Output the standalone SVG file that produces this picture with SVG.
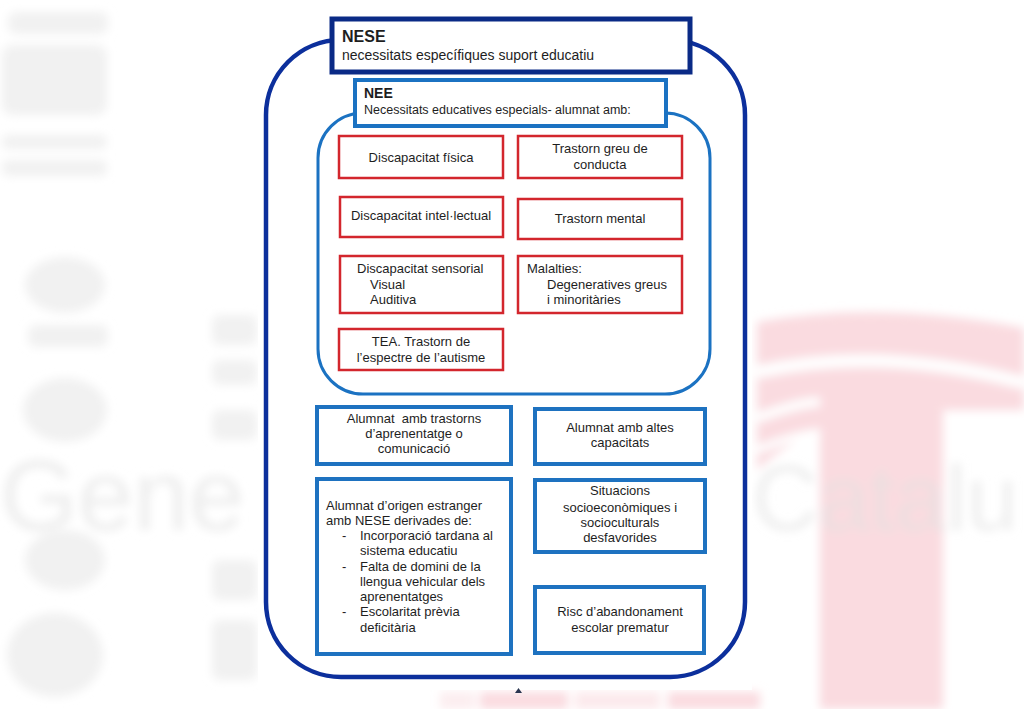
<svg xmlns="http://www.w3.org/2000/svg" width="1024" height="709" viewBox="0 0 1024 709">
<defs>
<filter id="blur" filterUnits="userSpaceOnUse" x="0" y="0" width="1024" height="709"><feGaussianBlur stdDeviation="5"/></filter>
<style>
text{font-family:"Liberation Sans",Arial,sans-serif;fill:#1e1e1e}
.t{font-size:13px}
.c{text-anchor:middle}
.red{fill:#fff;stroke:#d3262d;stroke-width:2.5}
.blue{fill:#fff;stroke:#1e72c0;stroke-width:4}
.wm{fill:#f1f1f1}
.pk{fill:#fadbe0}
</style>
</defs>
<rect width="1024" height="709" fill="#fff"/>
<g id="watermark" filter="url(#blur)">
<path class="pk" d="M757,322 Q880,300 1024,328 L1024,410 L943,410 L943,709 L820,709 L820,430 Q790,440 757,470 Z"/>
<path d="M757,372 Q880,345 1024,383" fill="none" stroke="#fff" stroke-width="13"/>
<path d="M757,418 Q800,402 820,402" fill="none" stroke="#fff" stroke-width="10"/>
<path d="M757,450 Q790,436 820,432" fill="none" stroke="#fff" stroke-width="8"/>
<rect class="pk" x="440" y="692" width="35" height="17" opacity="0.5"/>
<rect class="pk" x="480" y="692" width="88" height="17"/>
<rect class="pk" x="575" y="692" width="85" height="17" opacity="0.6"/>
<rect class="pk" x="668" y="692" width="92" height="17"/>
<g class="wm">
<rect x="8" y="12" width="100" height="22" rx="8"/>
<rect x="2" y="45" width="105" height="70" rx="10"/>
<rect x="2" y="135" width="105" height="14" rx="6"/>
<rect x="2" y="160" width="105" height="16" rx="6"/>
<ellipse cx="65" cy="285" rx="40" ry="28"/>
<rect x="28" y="325" width="80" height="22" rx="8"/>
<ellipse cx="65" cy="410" rx="42" ry="32"/>
<ellipse cx="65" cy="560" rx="40" ry="30"/>
<ellipse cx="55" cy="655" rx="48" ry="42"/>
<rect x="212" y="315" width="45" height="30" rx="8"/>
<rect x="212" y="360" width="45" height="25" rx="8"/>
<rect x="212" y="410" width="45" height="30" rx="8"/>
<rect x="212" y="560" width="45" height="40" rx="8"/>
<rect x="212" y="620" width="45" height="60" rx="8"/>
</g>
<text x="0" y="530" style="font-size:100px;fill:#eeeeee">Gene</text>
<text x="752" y="530" style="font-size:92px;fill:#e2e2e2" opacity="0.55">Catalu</text>
</g>
<rect x="258" y="0" width="494" height="690" fill="#fff"/>
<g id="connectors"></g>
<g id="nese-frame">
<rect x="266" y="40" width="479" height="637" rx="75" fill="none" stroke="#0c2f9c" stroke-width="4.5"/>
</g>
<g id="nese">
<rect x="332" y="19" width="358" height="53" fill="#fff" stroke="#0a2a86" stroke-width="5"/>
<text x="342" y="42" style="font-size:16px;font-weight:bold">NESE</text>
<text x="342" y="60" style="font-size:14px">necessitats específiques suport educatiu</text>
</g>
<g id="nee-frame">
<rect x="318" y="113" width="392" height="281" rx="45" fill="none" stroke="#1b72c2" stroke-width="3"/>
</g>
<g id="nee">
<rect x="355" y="80" width="311" height="46" fill="#fff" stroke="#1b72c2" stroke-width="4"/>
<text x="364" y="98" style="font-size:14px;font-weight:bold">NEE</text>
<text x="364" y="114" style="font-size:12.5px">Necessitats educatives especials- alumnat amb:</text>
</g>
<g id="disc-fisica">
<rect class="red" x="339" y="136" width="164" height="42"/>
<text class="t c" x="421" y="162">Discapacitat física</text>
</g>
<g id="trastorn-conducta">
<rect class="red" x="518" y="136" width="164" height="42"/>
<text class="t c" x="600" y="153">Trastorn greu de</text>
<text class="t c" x="600" y="169">conducta</text>
</g>
<g id="disc-intel">
<rect class="red" x="340" y="197" width="163" height="40"/>
<text class="t c" x="421" y="220">Discapacitat intel·lectual</text>
</g>
<g id="trastorn-mental">
<rect class="red" x="518" y="199" width="164" height="40"/>
<text class="t c" x="600" y="223">Trastorn mental</text>
</g>
<g id="disc-sensorial">
<rect class="red" x="340" y="256" width="163" height="57"/>
<text class="t" x="357" y="273">Discapacitat sensorial</text>
<text class="t" x="370" y="289">Visual</text>
<text class="t" x="370" y="304">Auditiva</text>
</g>
<g id="malalties">
<rect class="red" x="518" y="256" width="164" height="57"/>
<text class="t" x="527" y="273">Malalties:</text>
<text class="t" x="547" y="289">Degeneratives greus</text>
<text class="t" x="547" y="304">i minoritàries</text>
</g>
<g id="tea">
<rect class="red" x="339" y="329" width="164" height="41"/>
<text class="t c" x="421" y="346">TEA. Trastorn de</text>
<text class="t c" x="421" y="362">l’espectre de l’autisme</text>
</g>
<g id="trastorns-aprenentatge">
<rect class="blue" x="317" y="407" width="194" height="57"/>
<text class="t c" x="414" y="423" xml:space="preserve">Alumnat  amb trastorns</text>
<text class="t c" x="414" y="438">d’aprenentatge o</text>
<text class="t c" x="414" y="453">comunicació</text>
</g>
<g id="altes-capacitats">
<rect class="blue" x="535" y="409" width="170" height="55"/>
<text class="t c" x="620" y="432">Alumnat amb altes</text>
<text class="t c" x="620" y="447">capacitats</text>
</g>
<g id="origen-estranger">
<rect class="blue" x="317" y="479" width="194" height="175"/>
<text class="t" x="326" y="510">Alumnat d’origen estranger</text>
<text class="t" x="326" y="525">amb NESE derivades de:</text>
<text class="t" x="342" y="540">-</text>
<text class="t" x="360" y="540">Incorporació tardana al</text>
<text class="t" x="360" y="555">sistema educatiu</text>
<text class="t" x="342" y="571">-</text>
<text class="t" x="360" y="571">Falta de domini de la</text>
<text class="t" x="360" y="586">llengua vehicular dels</text>
<text class="t" x="360" y="601">aprenentatges</text>
<text class="t" x="342" y="616">-</text>
<text class="t" x="360" y="616">Escolaritat prèvia</text>
<text class="t" x="360" y="632">deficitària</text>
</g>
<g id="situacions">
<rect class="blue" x="535" y="480" width="170" height="72"/>
<text class="t c" x="620" y="495">Situacions</text>
<text class="t c" x="620" y="512">socioeconòmiques i</text>
<text class="t c" x="620" y="527">socioculturals</text>
<text class="t c" x="620" y="542">desfavorides</text>
</g>
<g id="risc">
<rect class="blue" x="535" y="587" width="169" height="66"/>
<text class="t c" x="620" y="616">Risc d’abandonament</text>
<text class="t c" x="620" y="632">escolar prematur</text>
</g>
<path d="M515,693 L518.5,688 L522,693 Z" fill="#2a3550"/>
</svg>
